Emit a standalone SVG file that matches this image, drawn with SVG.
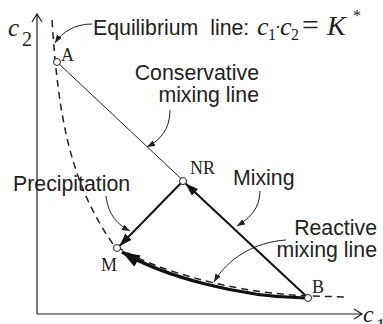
<svg xmlns="http://www.w3.org/2000/svg" width="383" height="324" viewBox="0 0 383 324">
<style>
.lbl{font-family:"Liberation Sans",Arial,sans-serif;font-size:21.3px;fill:#222;white-space:pre}
.pt{font-family:"Liberation Serif","Times New Roman",serif;font-size:18px;fill:#222}
.math{font-family:"Liberation Serif","Times New Roman",serif;fill:#222}
.ax{stroke:#222;stroke-width:1.2;fill:none}
.thin{stroke:#222;stroke-width:1;fill:none}
.thick{stroke:#111;stroke-width:2;fill:none}
.bold{stroke:#111;stroke-width:3.2;fill:none}
.dash{stroke:#222;stroke-width:1.5;fill:none;stroke-dasharray:7 5}
.pt-c{fill:#fff;stroke:#222;stroke-width:1}
</style>
<defs>
<marker id="sm" markerUnits="userSpaceOnUse" markerWidth="9" markerHeight="7" refX="8" refY="3" orient="auto"><path d="M0,0 L8,3 L0,6 z" fill="#222"/></marker>
<marker id="md" markerUnits="userSpaceOnUse" markerWidth="14" markerHeight="10" refX="13" refY="4.5" orient="auto"><path d="M0,0 L13,4.5 L0,9 z" fill="#111"/></marker>
<marker id="lg" markerUnits="userSpaceOnUse" markerWidth="19" markerHeight="14" refX="18" refY="6.5" orient="auto"><path d="M0,0 L18,6.5 L0,13 z" fill="#111"/></marker>
</defs>

<g id="axes">
<path class="ax" d="M37 314 V14 M32 22 L37 14 L42 22"/>
<path class="ax" d="M37 314 H362 M354 309 L362 314 L354 319"/>
<text class="math" x="8" y="36" font-size="25" font-style="italic">c</text>
<text class="math" x="22" y="46" font-size="20">2</text>
<text class="math" x="363" y="322" font-size="24" font-style="italic">c</text>
<text class="math" x="376" y="332" font-size="19">1</text>
</g>

<g id="connectors">
<path class="dash" d="M52 20 C58 110 68 180 113 244 C140 264 220 292 308 296 L347 297"/>
<line class="thin" x1="57" y1="62" x2="308" y2="298"/>
<line class="thick" x1="306" y1="296" x2="185.5" y2="183.5" marker-end="url(#md)"/>
<line class="thick" x1="181" y1="183" x2="119.5" y2="246" marker-end="url(#md)"/>
<path class="bold" d="M305 298 C240 297 165 277 122 252" marker-end="url(#lg)"/>
<path class="thin" d="M92 24 C75 24 62 32 55 43" marker-end="url(#sm)"/>
<path class="thin" d="M170 110 C170 130 160 140 147 147" marker-end="url(#sm)"/>
<path class="thin" d="M106 196 C108 215 118 225 130 231" marker-end="url(#sm)"/>
<path class="thin" d="M260 191 C260 208 250 218 237 226" marker-end="url(#sm)"/>
<path class="thin" d="M286 240 C255 242 228 258 214 282" marker-end="url(#sm)"/>
</g>

<g id="A"><circle class="pt-c" cx="57" cy="62" r="3.5"/><text class="pt" x="61" y="61">A</text></g>
<g id="NR"><circle class="pt-c" cx="183" cy="181" r="3.5"/><text class="pt" x="190" y="174">NR</text></g>
<g id="M"><circle class="pt-c" cx="117" cy="248" r="3.5"/><text class="pt" x="101" y="271">M</text></g>
<g id="B"><circle class="pt-c" cx="308" cy="298" r="3.5"/><text class="pt" x="312" y="293">B</text></g>

<g id="equilibrium-label">
<text class="lbl" x="93" y="35" xml:space="preserve">Equilibrium  line:</text>
<text class="math" x="257" y="35" font-size="26" font-style="italic">c</text>
<text class="math" x="268" y="40" font-size="16">1</text>
<text class="math" x="275" y="33" font-size="18">·</text>
<text class="math" x="280" y="35" font-size="26" font-style="italic">c</text>
<text class="math" x="291" y="40" font-size="16">2</text>
<text class="math" x="302" y="35" font-size="30">=</text>
<text class="math" x="327" y="35" font-size="28" font-style="italic">K</text>
<text class="math" x="353" y="21" font-size="16">*</text>
</g>
<g id="conservative-label">
<text class="lbl" x="259" y="80" text-anchor="end">Conservative</text>
<text class="lbl" x="259" y="102" text-anchor="end">mixing line</text>
</g>
<g id="precipitation-label"><text class="lbl" x="13" y="191">Precipitation</text></g>
<g id="mixing-label"><text class="lbl" x="233" y="185">Mixing</text></g>
<g id="reactive-label">
<text class="lbl" x="377" y="235" text-anchor="end">Reactive</text>
<text class="lbl" x="377" y="257" text-anchor="end">mixing line</text>
</g>
</svg>
